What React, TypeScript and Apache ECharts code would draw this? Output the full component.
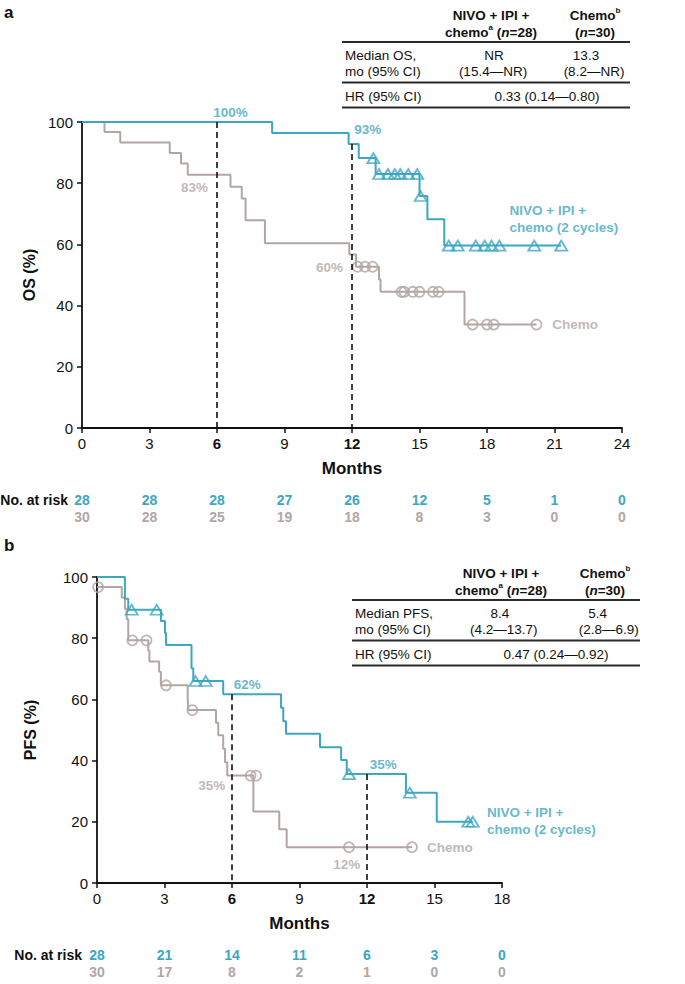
import React, { useEffect, useRef } from 'react';
import * as echarts from 'echarts';

const BLUE = '#3ca6c3';
const GRAY = '#b2a6a4';
const INK = '#111111';
const FONT = '"Liberation Sans", Arial, Helvetica, sans-serif';

// ---------- Panel a: overall survival ----------
const osMaxMonth = 24;
const osNivoMonths = [0, 8.45, 11.85, 12.3, 13.05, 15.0, 15.35, 16.1, 21.3];
const osNivoPct = [100, 96.4, 92.8, 88.2, 83.0, 75.8, 68.2, 59.6, 59.6];
const osNivoCensored = [
  [12.95, 88.2], [13.2, 83], [13.6, 83], [13.9, 83], [14.15, 83], [14.5, 83], [14.9, 83],
  [15.05, 75.8], [16.3, 59.6], [16.7, 59.6], [17.5, 59.6], [17.9, 59.6], [18.2, 59.6],
  [18.55, 59.6], [20.1, 59.6], [21.3, 59.6],
];
const osChemoMonths = [0, 1.0, 1.7, 3.9, 4.4, 4.7, 6.6, 7.1, 7.27, 8.13, 11.88, 12.18, 13.2, 13.27, 17.0, 20.2];
const osChemoPct = [100, 96.7, 93.3, 89.9, 86.4, 82.8, 78.8, 75.0, 67.9, 60.4, 56.7, 52.7, 48.5, 44.5, 33.8, 33.8];
const osChemoCensored = [
  [12.25, 52.7], [12.58, 52.7], [12.92, 52.7], [14.2, 44.5], [14.32, 44.5], [14.7, 44.5],
  [15.0, 44.5], [15.6, 44.5], [15.85, 44.5], [17.36, 33.8], [18.0, 33.8], [18.3, 33.8], [20.2, 33.8],
];
const osRiskNivo = [28, 28, 28, 27, 26, 12, 5, 1, 0];
const osRiskChemo = [30, 28, 25, 19, 18, 8, 3, 0, 0];

// ---------- Panel b: progression-free survival ----------
const pfsMaxMonth = 18;
const pfsNivoMonths = [0, 1.24, 1.39, 2.84, 3.02, 3.07, 4.2, 4.28, 5.61, 8.18, 8.28, 8.4, 9.91, 10.85, 11.1, 13.73, 15.1, 16.7];
const pfsNivoPct = [100, 92.9, 89.3, 85.6, 81.7, 77.8, 70.2, 66.0, 61.7, 57.3, 52.9, 48.8, 44.4, 40.2, 35.6, 29.5, 20.0, 20.0];
const pfsNivoCensored = [
  [1.54, 89.3], [2.65, 89.3], [4.38, 66.0], [4.83, 66.0], [11.2, 35.6], [13.9, 29.5], [16.5, 20], [16.7, 20],
];
const pfsChemoMonths = [0, 1.1, 1.24, 1.32, 1.39, 2.28, 2.33, 2.76, 2.84, 4.03, 4.06, 5.29, 5.39, 5.61, 5.69, 5.79, 6.95, 8.1, 8.43, 14.0];
const pfsChemoPct = [96.7, 93.3, 89.6, 86.2, 79.3, 75.9, 72.4, 69.0, 64.6, 60.2, 56.5, 52.4, 48.3, 43.9, 39.5, 35.1, 23.4, 17.6, 11.7, 11.7];
const pfsChemoCensored = [
  [0.05, 96.7], [1.57, 79.3], [2.2, 79.3], [3.07, 64.6], [4.24, 56.5], [6.83, 35.1], [7.07, 35.1], [11.2, 11.7], [14.0, 11.7],
];
const pfsRiskNivo = [28, 21, 14, 11, 6, 3, 0];
const pfsRiskChemo = [30, 17, 8, 2, 1, 0, 0];

const pairs = (t: number[], s: number[]) => t.map((x, i) => [x, s[i]]);

function mainX(gridIndex: number, max: number) {
  return {
    type: 'value', gridIndex, min: 0, max, interval: 3,
    name: 'Months', nameLocation: 'middle', nameGap: 32,
    nameTextStyle: { fontSize: 17, fontWeight: 'bold', color: INK, fontFamily: FONT },
    axisLine: { show: true, onZero: false, lineStyle: { color: INK, width: 1.8 } },
    axisTick: { show: true, inside: false, length: 5, lineStyle: { color: INK, width: 1.5 } },
    splitLine: { show: false },
    axisLabel: {
      show: true, margin: 8, fontSize: 15, color: INK, fontFamily: FONT, showMinLabel: true, showMaxLabel: true,
      formatter: (v: number) => (v === 6 || v === 12 ? `{b|${v}}` : `${v}`),
      rich: { b: { fontWeight: 'bold', fontSize: 15, color: INK, fontFamily: FONT } },
    },
  };
}

function riskX(gridIndex: number, max: number, offset: number, values: number[], color: string) {
  return {
    type: 'value', gridIndex, min: 0, max, interval: 3, position: 'bottom', offset,
    axisLine: { show: false }, axisTick: { show: false }, splitLine: { show: false },
    axisLabel: {
      margin: 0, fontSize: 14, fontWeight: 'bold', color, fontFamily: FONT, showMinLabel: true, showMaxLabel: true,
      formatter: (v: number) => {
        const i = Math.round(v / 3);
        return values[i] !== undefined ? String(values[i]) : '';
      },
    },
  };
}

function mainY(gridIndex: number, name: string, nameGap: number) {
  return {
    type: 'value', gridIndex, min: 0, max: 100, interval: 20,
    name, nameLocation: 'middle', nameGap, nameRotate: 90,
    nameTextStyle: { fontSize: 16, fontWeight: 'bold', color: INK, fontFamily: FONT },
    axisLine: { show: true, onZero: false, lineStyle: { color: INK, width: 1.8 } },
    axisTick: { show: true, length: 5, lineStyle: { color: INK, width: 1.5 } },
    splitLine: { show: false },
    axisLabel: { margin: 9, fontSize: 15, color: INK, fontFamily: FONT },
  };
}

type Note = { at: number[]; text: string; color: string; align: string };

function panelSeries(
  xi: number, yi: number,
  nivo: number[][], chemo: number[][],
  nivoCens: number[][], chemoCens: number[][],
  dashes: number[][], notes: Note[],
) {
  return [
    {
      type: 'line', xAxisIndex: xi, yAxisIndex: yi, step: 'end', data: chemo, symbol: 'none', showSymbol: false,
      lineStyle: { color: GRAY, width: 2 }, itemStyle: { color: GRAY }, z: 2, silent: true,
    },
    {
      type: 'line', xAxisIndex: xi, yAxisIndex: yi, step: 'end', data: nivo, symbol: 'none', showSymbol: false,
      lineStyle: { color: BLUE, width: 2 }, itemStyle: { color: BLUE }, z: 3, silent: true,
      markLine: {
        silent: true, symbol: ['none', 'none'], label: { show: false },
        lineStyle: { color: INK, width: 1.6, type: [6, 4] },
        data: dashes.map(([x, y]) => [{ coord: [x, y] }, { coord: [x, 0] }]),
      },
    },
    {
      type: 'scatter', xAxisIndex: xi, yAxisIndex: yi, data: chemoCens, symbol: 'circle', symbolSize: 10,
      itemStyle: { color: 'rgba(255,255,255,0)', borderColor: GRAY, borderWidth: 1.8 }, z: 4, silent: true,
    },
    {
      type: 'scatter', xAxisIndex: xi, yAxisIndex: yi, data: nivoCens, symbol: 'triangle', symbolSize: [12, 10],
      itemStyle: { color: 'rgba(255,255,255,0)', borderColor: BLUE, borderWidth: 1.8 }, z: 5, silent: true,
    },
    {
      type: 'scatter', xAxisIndex: xi, yAxisIndex: yi, symbolSize: 1, silent: true, z: 6, clip: false,
      itemStyle: { color: 'rgba(0,0,0,0)' },
      data: notes.map((n) => ({
        value: n.at,
        label: {
          show: true, position: 'inside', formatter: n.text, color: n.color, align: n.align,
          verticalAlign: 'middle', fontSize: 13.5, fontWeight: 'bold', fontFamily: FONT, lineHeight: 17,
        },
      })),
    },
  ];
}

const richHead = {
  b: { fontSize: 13.5, fontWeight: 'bold', fill: INK, fontFamily: FONT, lineHeight: 17 },
  i: { fontSize: 13.5, fontWeight: 'bold', fontStyle: 'italic', fill: INK, fontFamily: FONT, lineHeight: 17 },
  s: { fontSize: 8, fontWeight: 'bold', fill: INK, fontFamily: FONT, lineHeight: 17, verticalAlign: 'top' },
};

function txt(x: number, y: number, text: string, extra: any = {}) {
  return {
    type: 'text', x, y, silent: true,
    style: { text, fill: INK, fontSize: 13.5, fontFamily: FONT, align: 'left', verticalAlign: 'middle', ...extra },
  };
}
function rule(x1: number, x2: number, y: number) {
  return { type: 'line', silent: true, shape: { x1, y1: y, x2, y2: y }, style: { stroke: '#2a2a2a', lineWidth: 1.8 } };
}

function table(dx: number, dy: number, label: string, v1: string, c1: string, v2: string, c2: string, hr: string,
  pos: { v1: number; c1: number; v2: number; c2: number; hr: number }) {
  return [
    txt(491 + dx, 23.5 + dy, '{b|NIVO + IPI +}\n{b|chemo}{s|a}{b| (}{i|n}{b|=28)}', { align: 'center', rich: richHead }),
    txt(595 + dx, 23.5 + dy, '{b|Chemo}{s|b}\n{b|(}{i|n}{b|=30)}', { align: 'center', rich: richHead }),
    rule(342 + dx, 630 + dx, 42 + dy),
    txt(345 + dx, 55 + dy, label),
    txt(345 + dx, 71.5 + dy, 'mo (95% CI)'),
    txt(pos.v1, 55 + dy, v1, { align: 'center' }),
    txt(pos.c1, 71.5 + dy, c1, { align: 'center' }),
    txt(pos.v2, 55 + dy, v2, { align: 'center' }),
    txt(pos.c2, 71.5 + dy, c2, { align: 'center' }),
    rule(342 + dx, 630 + dx, 82.5 + dy),
    txt(345 + dx, 96.5 + dy, 'HR (95% CI)'),
    txt(pos.hr, 96.5 + dy, hr, { align: 'center' }),
    rule(342 + dx, 630 + dx, 107.5 + dy),
  ];
}

function buildOption() {
  return {
    animation: false,
    textStyle: { fontFamily: FONT },
    grid: [
      { left: 82, top: 122, width: 540, height: 306, outerBoundsMode: 'none' },
      { left: 97, top: 577, width: 405, height: 306, outerBoundsMode: 'none' },
    ],
    xAxis: [
      mainX(0, osMaxMonth),
      riskX(0, osMaxMonth, 65, osRiskNivo, BLUE),
      riskX(0, osMaxMonth, 82, osRiskChemo, GRAY),
      mainX(1, pfsMaxMonth),
      riskX(1, pfsMaxMonth, 65, pfsRiskNivo, BLUE),
      riskX(1, pfsMaxMonth, 82, pfsRiskChemo, GRAY),
    ],
    yAxis: [mainY(0, 'OS (%)', 44), mainY(1, 'PFS (%)', 59)],
    series: [
      ...panelSeries(0, 0, pairs(osNivoMonths, osNivoPct), pairs(osChemoMonths, osChemoPct),
        osNivoCensored, osChemoCensored, [[6, 100], [12, 92.8]], [
          { at: [6.6, 103.2], text: '100%', color: BLUE, align: 'center' },
          { at: [12.7, 97.5], text: '93%', color: BLUE, align: 'center' },
          { at: [5.0, 78.6], text: '83%', color: GRAY, align: 'center' },
          { at: [11.0, 52.6], text: '60%', color: GRAY, align: 'center' },
          { at: [19.0, 68.3], text: 'NIVO + IPI +\nchemo (2 cycles)', color: BLUE, align: 'left' },
          { at: [20.9, 33.8], text: 'Chemo', color: GRAY, align: 'left' },
        ]),
      ...panelSeries(3, 1, pairs(pfsNivoMonths, pfsNivoPct), pairs(pfsChemoMonths, pfsChemoPct),
        pfsNivoCensored, pfsChemoCensored, [[6, 61.7], [12, 35.6]], [
          { at: [6.68, 64.9], text: '62%', color: BLUE, align: 'center' },
          { at: [12.72, 38.6], text: '35%', color: BLUE, align: 'center' },
          { at: [5.1, 31.7], text: '35%', color: GRAY, align: 'center' },
          { at: [11.1, 6.2], text: '12%', color: GRAY, align: 'center' },
          { at: [17.33, 20.4], text: 'NIVO + IPI +\nchemo (2 cycles)', color: BLUE, align: 'left' },
          { at: [14.67, 11.7], text: 'Chemo', color: GRAY, align: 'left' },
        ]),
    ],
    graphic: [
      txt(4, 12, 'a', { fontSize: 17, fontWeight: 'bold' }),
      txt(4, 545, 'b', { fontSize: 17, fontWeight: 'bold' }),
      txt(68, 500, 'No. at risk', { align: 'right', fontSize: 14, fontWeight: 'bold' }),
      txt(82, 955, 'No. at risk', { align: 'right', fontSize: 14, fontWeight: 'bold' }),
      ...table(0, 0, 'Median OS,', 'NR', '(15.4\u2014NR)', '13.3', '(8.2\u2014NR)', '0.33 (0.14\u20140.80)',
        { v1: 494, c1: 493, v2: 586, c2: 594, hr: 547 }),
      ...table(10, 558, 'Median PFS,', '8.4', '(4.2\u201413.7)', '5.4', '(2.8\u20146.9)', '0.47 (0.24\u20140.92)',
        { v1: 500, c1: 503.7, v2: 597.7, c2: 608.8, hr: 556 }),
    ],
  };
}

export default function App() {
  const ref = useRef<HTMLDivElement>(null);
  useEffect(() => {
    document.body.style.margin = '0';
    const chart = echarts.init(ref.current as HTMLDivElement, null, { renderer: 'svg' });
    chart.setOption(buildOption() as any);
    return () => chart.dispose();
  }, []);
  return <div ref={ref} style={{ width: 685, height: 984 }} />;
}
